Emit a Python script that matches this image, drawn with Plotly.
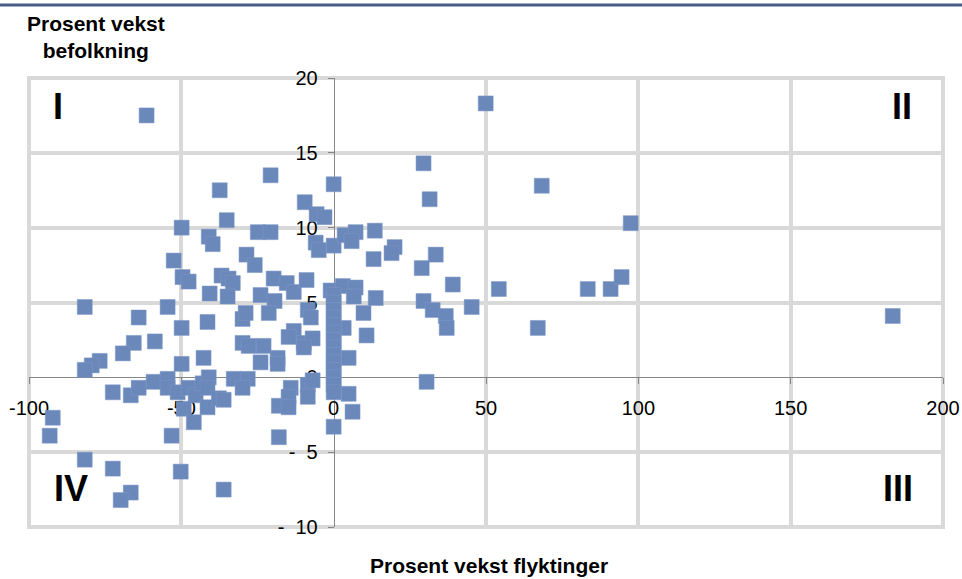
import plotly.graph_objects as go

# percent growth refugees (x) vs percent growth population (y)
vekst_flyktninger = [
    -61.4, 49.9, 29.5, 31.5, 68.3, 97.5, -20.7, -37.4, 0, -9.5,
    -5.6, -3.0, -35.1, -49.9, -41.0, -39.7, -24.9, -20.7, -5.9, -4.9,
    0, 3.6, 7.2, 5.9, 13.5, 20.0, 19.0, 13.1, 33.5, 28.9,
    -28.6, -25.9, -52.5, -49.6, -47.6, -36.8, -34.5, -33.1, -19.7, -15.4,
    -13.1, -8.9, -40.7, -34.8, -24.0, -19.4, -1.0, 3.0, 7.2, 6.6,
    13.8, 39.1, 29.5, 32.5, 36.8, 37.1, 45.3, 54.2, 83.4, 90.9,
    94.5, 67.0, 183.5, 30.5, 9.8, 10.8, 3.3, 4.9, 4.9, 6.2,
    0, 0, 0, 0, 0, 0, 0, 0, 0, 0,
    0, 0, 0, 0, 0,
    -81.7, -64.0, -54.5, -49.9, -41.4, -65.6, -69.2, -58.7, -76.8, -79.4,
    -81.7, -49.9, -42.7, -72.5, -66.6, -64.0, -59.1, -54.5, -54.5, -51.2,
    -47.6, -45.3, -43.0, -41.0, -41.4, -49.2, -45.9, -41.4, -37.7, -36.1,
    -32.8, -28.2, -29.9, -24.0, -18.4, -18.4, -29.9, -27.9, -23.0, -29.9,
    -28.9, -21.3, -13.1, -14.8, -9.8, -6.9, -9.8, -8.5, -7.5, -14.1,
    -14.8, -18.0, -14.8, -8.5, -8.5, -6.9, -18.0, -53.2, -81.7, -72.5,
    -66.6, -69.9, -36.1, -92.2, -93.2, -50.2,
]
vekst_befolkning = [
    17.5, 18.3, 14.3, 11.9, 12.8, 10.3, 13.5, 12.5, 12.9, 11.7,
    10.9, 10.7, 10.5, 10.0, 9.4, 8.9, 9.7, 9.7, 9.0, 8.5,
    8.8, 9.5, 9.7, 9.1, 9.8, 8.7, 8.3, 7.9, 8.2, 7.3,
    8.2, 7.5, 7.8, 6.7, 6.4, 6.8, 6.6, 6.3, 6.6, 6.3,
    5.7, 6.5, 5.6, 5.4, 5.5, 5.1, 5.8, 6.1, 6.0, 5.4,
    5.3, 6.2, 5.1, 4.5, 4.1, 3.3, 4.7, 5.9, 5.9, 5.9,
    6.7, 3.3, 4.1, -0.3, 4.3, 2.8, 3.3, 1.3, -1.1, -2.3,
    -3.3, 5.5, 5.0, 4.5, 4.0, 3.5, 3.0, 2.5, 2.0, 1.5,
    1.0, 0.5, 0.0, -0.5, -1.0,
    4.7, 4.0, 4.7, 3.3, 3.7, 2.3, 1.6, 2.4, 1.1, 0.8,
    0.5, 0.9, 1.3, -1.0, -1.2, -0.7, -0.3, -0.1, -0.7, -1.0,
    -0.7, -1.2, -0.4, 0.0, -0.7, -2.1, -3.0, -2.0, -1.4, -1.5,
    -0.1, -0.1, -0.7, 1.0, 1.3, 0.9, 2.3, 2.1, 2.1, 3.9,
    4.3, 4.3, 3.1, 2.7, 2.3, 2.6, 2.0, 4.5, 4.0, -0.7,
    -1.3, -1.9, -2.0, -0.5, -1.3, -0.2, -4.0, -3.9, -5.5, -6.1,
    -7.7, -8.2, -7.5, -2.7, -3.9, -6.3,
]

x_ticks = [-100, -50, 0, 50, 100, 150, 200]
x_ticktext = ["-100", "-50", "0", "50", "100", "150", "200"]
y_ticks = [-10, -5, 0, 5, 10, 15, 20]
y_ticktext = ["-\u00a0\u00a010", "-\u00a0\u00a05", "0", "5", "10", "15", "20"]

quadrant_labels = ["I", "II", "III", "IV"]
quadrant_x = [-90.6, 186.7, 185.1, -86.3]
quadrant_y = [18.1, 18.1, -7.4, -7.4]

x_range = [x_ticks[0], x_ticks[-1]]
y_range = [y_ticks[0], y_ticks[-1]]
# where the axes cross (at 0), as fraction of the plot area
x_cross = (0 - x_range[0]) / (x_range[1] - x_range[0])
y_cross = (0 - y_range[0]) / (y_range[1] - y_range[0])

grid = "#d9d9d9"
axis_grey = "#868686"
font = "Liberation Sans, Arial, sans-serif"

fig = go.Figure()
fig.add_trace(go.Scatter(
    x=vekst_flyktninger, y=vekst_befolkning, mode="markers",
    marker=dict(symbol="square", size=15, color="#6b88bb",
                line=dict(color="#7f99c6", width=0.5)),
    hoverinfo="x+y", showlegend=False,
))

for lab, qx, qy in zip(quadrant_labels, quadrant_x, quadrant_y):
    fig.add_annotation(x=qx, y=qy, text="<b>%s</b>" % lab, showarrow=False,
                       xanchor="center", yanchor="middle",
                       font=dict(family=font, size=36, color="black"))

fig.update_xaxes(
    range=x_range, anchor="free", position=y_cross, layer="below traces",
    automargin=False,
    tickmode="array", tickvals=x_ticks, ticktext=x_ticktext,
    showgrid=False, zeroline=False,
    minor=dict(tickmode="array", tickvals=[v for v in x_ticks if v != 0],
               showgrid=True, gridcolor=grid, gridwidth=4, ticks=""),
    showline=True, linecolor=axis_grey, linewidth=1,
    ticks="outside", ticklen=6, tickcolor=axis_grey, ticklabelstandoff=7,
    tickfont=dict(family=font, size=20, color="black"),
)
fig.update_yaxes(
    range=y_range, anchor="free", position=x_cross, layer="below traces",
    automargin=False,
    tickmode="array", tickvals=y_ticks, ticktext=y_ticktext,
    showgrid=False, zeroline=False,
    minor=dict(tickmode="array", tickvals=[v for v in y_ticks if v != 0],
               showgrid=True, gridcolor=grid, gridwidth=4, ticks=""),
    showline=True, linecolor=axis_grey, linewidth=1,
    ticks="outside", ticklen=6, tickcolor=axis_grey, ticklabelstandoff=6,
    tickfont=dict(family=font, size=20, color="black"),
)

W, H = 962, 579
ml, mr, mt, mb = 29, 19, 78, 52
pw, ph = W - ml - mr, H - mt - mb


def px_to_paper(px, py):
    return (px - ml) / pw, (H - mb - py) / ph


# plot border
fig.add_shape(type="rect", xref="paper", yref="paper", x0=0, x1=1, y0=0, y1=1,
              line=dict(color=grid, width=4), layer="below")
# dark blue rule along the top
lx0, ly = px_to_paper(0, 5)
lx1, _ = px_to_paper(W, 5)
fig.add_shape(type="line", xref="paper", yref="paper", x0=lx0, x1=lx1, y0=ly, y1=ly,
              line=dict(color="#485d86", width=3))

tx, ty = px_to_paper(96, 37)
fig.add_annotation(xref="paper", yref="paper", x=tx, y=ty,
                   xanchor="center", yanchor="middle",
                   text="<b>Prosent vekst</b><br><b>befolkning</b>", showarrow=False,
                   align="center", font=dict(family=font, size=21, color="black"))
tx, ty = px_to_paper(489, 565)
fig.add_annotation(xref="paper", yref="paper", x=tx, y=ty,
                   xanchor="center", yanchor="middle",
                   text="<b>Prosent vekst flyktinger</b>", showarrow=False,
                   font=dict(family=font, size=21, color="black"))

fig.update_layout(
    width=W, height=H, margin=dict(l=ml, r=mr, t=mt, b=mb),
    plot_bgcolor="white", paper_bgcolor="white",
    font=dict(family=font),
)

# drop the default page margin so the figure sits at the window's corner
fig.write_html("out.html", config={"displayModeBar": False},
               post_script="document.body.style.margin='0';")
